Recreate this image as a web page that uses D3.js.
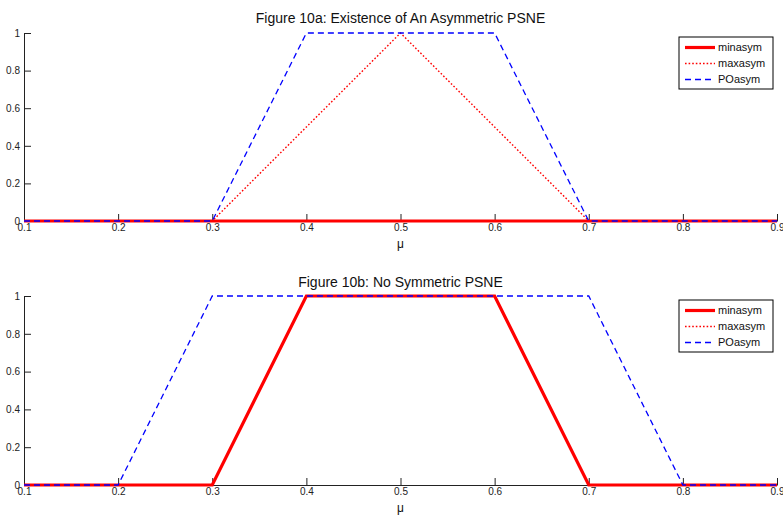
<!DOCTYPE html>
<html>
<head>
<meta charset="utf-8">
<script src="https://cdn.jsdelivr.net/npm/d3@7"></script>
<style>
  body { margin: 0; background: #fff; }
  svg { display: block; font-family: "Liberation Sans", Arial, sans-serif; }
</style>
</head>
<body>
<div id="chart"></div>
<script>
// data
var mu = [0.1, 0.2, 0.3, 0.4, 0.5, 0.6, 0.7, 0.8, 0.9];
var xTicks = [0.1, 0.2, 0.3, 0.4, 0.5, 0.6, 0.7, 0.8, 0.9];
var yTicks = [0, 0.2, 0.4, 0.6, 0.8, 1];
var seriesNames = ["minasym", "maxasym", "POasym"];

var titleA = "Figure 10a: Existence of An Asymmetric PSNE";
var minA = [0, 0, 0, 0, 0, 0, 0, 0, 0];
var maxA = [0, 0, 0, 0.5, 1, 0.5, 0, 0, 0];
var poA  = [0, 0, 0, 1, 1, 1, 0, 0, 0];

var titleB = "Figure 10b: No Symmetric PSNE";
var minB = [0, 0, 0, 1, 1, 1, 0, 0, 0];
var maxB = [0, 0, 0, 1, 1, 1, 0, 0, 0];
var poB  = [0, 0, 1, 1, 1, 1, 1, 0, 0];

var W = 783, H = 515;
var svg = d3.select("#chart").append("svg").attr("width", W).attr("height", H);

// line styles per series
var styles = [
    { color: "#ff0000", width: 3.2, dash: null },
    { color: "#ff0000", width: 1.4, dash: "1.6,2" },
    { color: "#0000ff", width: 1.3, dash: "6,4" }
];

function panel(top, bottom, title, titleOff, data) {
    var x = d3.scaleLinear().domain([0.1, 0.9]).range([24, 777]);
    var y = d3.scaleLinear().domain([0, 1]).range([bottom, top]);
    var g = svg.append("g");

    // axes (ticks point inward)
    var xAxis = d3.axisBottom(x).tickValues(xTicks).tickSizeInner(-7).tickSizeOuter(0)
                  .tickFormat(d3.format("~g")).tickPadding(3);
    var gx = g.append("g").attr("transform", "translate(0," + bottom + ")").call(xAxis);
    gx.selectAll("text").attr("font-size", "10px").attr("fill", "#222").attr("dy", "0.7em");
    gx.selectAll("line, path").attr("stroke", "#222");

    var yAxis = d3.axisLeft(y).tickValues(yTicks).tickSizeInner(-7).tickSizeOuter(0)
                  .tickFormat(d3.format("~g")).tickPadding(4);
    var gy = g.append("g").attr("transform", "translate(24,0)").call(yAxis);
    gy.selectAll("text").attr("font-size", "10px").attr("fill", "#222");
    gy.selectAll("line, path").attr("stroke", "#222");

    g.append("text").attr("x", 400.5).attr("y", top - titleOff)
        .attr("text-anchor", "middle").attr("font-size", "14px").attr("fill", "#111")
        .text(title);
    g.append("text").attr("x", 400.5).attr("y", bottom + 27)
        .attr("text-anchor", "middle").attr("font-size", "12px").attr("fill", "#111")
        .text("\u03bc");

    var line = d3.line().x(function(d, i) { return x(mu[i]); }).y(function(d) { return y(d); });
    data.forEach(function(s, k) {
        g.append("path").datum(s).attr("d", line)
            .attr("fill", "none")
            .attr("stroke", styles[k].color)
            .attr("stroke-width", styles[k].width)
            .attr("stroke-dasharray", styles[k].dash);
    });

    // legend
    var lg = g.append("g").attr("transform", "translate(679," + (top + 4) + ")");
    lg.append("rect").attr("width", 94).attr("height", 52)
        .attr("fill", "#fff").attr("stroke", "#000").attr("stroke-width", 1);
    seriesNames.forEach(function(name, k) {
        var ly = 10.5 + k * 16;
        lg.append("line").attr("x1", 6).attr("x2", 36).attr("y1", ly).attr("y2", ly)
            .attr("stroke", styles[k].color)
            .attr("stroke-width", styles[k].width)
            .attr("stroke-dasharray", styles[k].dash);
        lg.append("text").attr("x", 39).attr("y", ly).attr("dy", "0.35em")
            .attr("font-size", "11px").attr("fill", "#111").text(name);
    });
}

panel(33, 221, titleA, 10, [minA, maxA, poA]);
panel(296, 485, titleB, 9.5, [minB, maxB, poB]);
</script>
</body>
</html>
